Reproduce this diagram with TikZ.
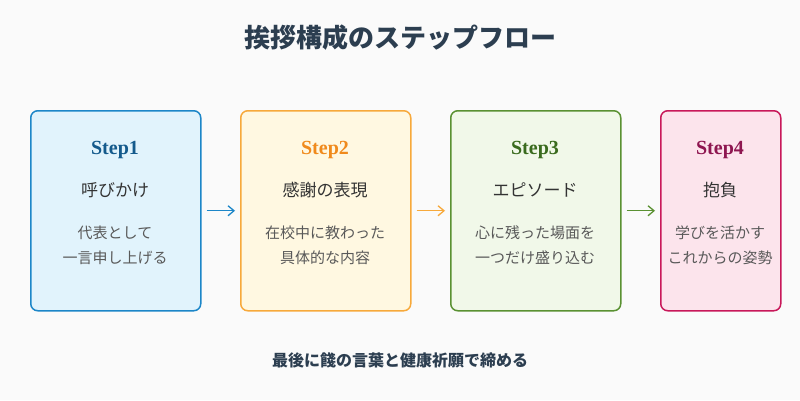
\documentclass[tikz,border=0pt]{standalone}
\usepackage{fontspec}
\setmainfont{Liberation Serif}
\newfontfamily\cjk{Noto Sans CJK JP}
\usetikzlibrary{positioning,arrows.meta}
\definecolor{bluefill}{HTML}{E1F3FC}
\definecolor{blueline}{HTML}{1C86C8}
\definecolor{bluetext}{HTML}{145A8C}
\definecolor{orangefill}{HTML}{FFF8E1}
\definecolor{orangeline}{HTML}{F7A93B}
\definecolor{orangetext}{HTML}{F08A1C}
\definecolor{greenfill}{HTML}{F1F8E9}
\definecolor{greenline}{HTML}{5A9132}
\definecolor{greentext}{HTML}{3A6B1E}
\definecolor{pinkfill}{HTML}{FCE4EC}
\definecolor{pinkline}{HTML}{C8185A}
\definecolor{pinktext}{HTML}{8E1650}
\definecolor{titletext}{HTML}{2C3E50}
\tikzset{stepbox/.style={draw, line width=1.5pt, rounded corners=7pt, minimum height=200pt, anchor=north west}}
\tikzset{steplabel/.style={font=\fontsize{20}{22}\selectfont\bfseries}}
\tikzset{stepname/.style={font=\cjk\fontsize{17}{20}\selectfont, text=black!80}}
\tikzset{stepdesc/.style={font=\cjk\fontsize{15}{25}\selectfont, text=black!65, align=center}}
\tikzset{steparrow/.style={-{Straight Barb[length=6pt,width=10pt]}, line width=1.3pt, shorten <=5pt, shorten >=5pt}}
\begin{document}
\begin{tikzpicture}[x=1pt,y=1pt]
  \fill[black!2] (0,0) rectangle (800,400);
  \node[font=\cjk\fontsize{26}{30}\selectfont\bfseries, text=titletext] (title) at (400,362) {挨拶構成のステップフロー};

  \node[stepbox, fill=bluefill, draw=blueline, minimum width=170pt] (B1) at (30,290) {};
  \node[stepbox, fill=orangefill, draw=orangeline, minimum width=170pt] (B2) at (240,290) {};
  \node[stepbox, fill=greenfill, draw=greenline, minimum width=170pt] (B3) at (450,290) {};
  \node[stepbox, fill=pinkfill, draw=pinkline, minimum width=120pt] (B4) at (660,290) {};

  \node[steplabel, text=bluetext] (S1) at (115,250) {Step1};
  \node[stepname] (N1) at (115,210) {呼びかけ};
  \node[stepdesc] (D1) at (115,155) {代表として\\一言申し上げる};

  \node[steplabel, text=orangetext] (S2) at (325,250) {Step2};
  \node[stepname] (N2) at (325,210) {感謝の表現};
  \node[stepdesc] (D2) at (325,155) {在校中に教わった\\具体的な内容};

  \node[steplabel, text=greentext] (S3) at (535,250) {Step3};
  \node[stepname] (N3) at (535,210) {エピソード};
  \node[stepdesc] (D3) at (535,155) {心に残った場面を\\一つだけ盛り込む};

  \node[steplabel, text=pinktext] (S4) at (720,250) {Step4};
  \node[stepname] (N4) at (720,210) {抱負};
  \node[stepdesc] (D4) at (720,155) {学びを活かす\\これからの姿勢};

  \draw[steparrow, blueline] (B1.east) -- (B2.west);
  \draw[steparrow, orangeline] (B2.east) -- (B3.west);
  \draw[steparrow, greenline] (B3.east) -- (B4.west);

  \node[font=\cjk\fontsize{16}{20}\selectfont\bfseries, text=titletext] (closing) at (400,40) {最後に餞の言葉と健康祈願で締める};
\end{tikzpicture}
\end{document}
